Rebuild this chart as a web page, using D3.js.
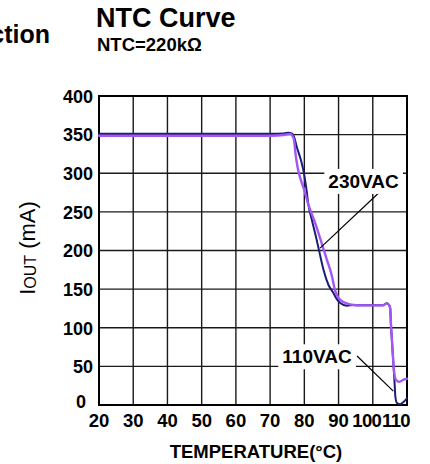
<!DOCTYPE html>
<html>
<head>
<meta charset="utf-8">
<script src="https://cdn.jsdelivr.net/npm/d3@7"></script>
<style>
  body { margin: 0; background: #fff; }
  svg { font-family: "Liberation Sans", Arial, sans-serif; }
  .grid line { stroke: #1a1a1a; stroke-width: 1.4; }
  .frame { fill: none; stroke: #000; stroke-width: 2; }
  .tick-label { font-weight: bold; fill: #000; }
  .curve { fill: none; stroke-linejoin: round; stroke-linecap: round; }
</style>
</head>
<body>
<svg id="chart" width="430" height="464"></svg>
<script>
const xTicks = [20, 30, 40, 50, 60, 70, 80, 90, 100, 110];
const yTicks = [0, 50, 100, 150, 200, 250, 300, 350, 400];

// 110VAC (dark blue)
const temp110 = [20, 70, 74, 75.4, 76.5, 77, 77.8, 79, 79.7, 80.5, 81.2, 82.2, 83.6, 84.6, 85.6, 87, 88.5, 89.5, 90.5, 92.4, 94.4, 96, 103, 104.1, 104.8, 105.1, 105.3, 105.6, 105.9, 106.2, 106.4, 106.6, 107, 108, 109, 110];
const iout110 = [351, 351, 351.5, 352.5, 351, 347, 334, 317, 304, 283, 259, 239.5, 214, 194, 175, 156, 145, 137, 132, 128.5, 129.5, 129, 129, 131.6, 129, 125, 105, 84, 62, 41, 26, 11, 3, 1, 4, 8.5];

// 230VAC (purple)
const temp230 = [20, 70, 74, 75.8, 76.5, 77, 77.4, 78, 79, 80, 81, 83.2, 85.1, 86.6, 88, 89, 89.8, 90.5, 92.4, 94.4, 96, 103, 104.1, 104.8, 105.1, 105.3, 105.6, 105.9, 106.3, 106.8, 107.8, 109, 110];
const iout230 = [348.5, 348.5, 349.5, 351, 348.5, 343, 326, 308.5, 291, 278, 262, 235, 209, 188, 168, 148, 140, 136, 131.6, 129.5, 129, 129, 131.6, 129, 125, 106, 84, 62.5, 41, 32.4, 30, 33, 34];

const xScale = d3.scaleLinear().domain([20, 110]).range([99, 407]);
const yScale = d3.scaleLinear().domain([0, 400]).range([405, 96]);

const svg = d3.select("#chart");

// header texts
svg
  .append("text")
  .attr("x", 50)
  .attr("y", 43)
  .attr("text-anchor", "end")
  .attr("font-size", 25)
  .attr("font-weight", "bold")
  .text("ction");

svg
  .append("text")
  .attr("x", 96)
  .attr("y", 27)
  .attr("font-size", 27)
  .attr("font-weight", "bold")
  .text("NTC Curve");

svg
  .append("text")
  .attr("x", 97)
  .attr("y", 51)
  .attr("font-size", 18.5)
  .attr("font-weight", "bold")
  .text("NTC=220kΩ");

// grid
const grid = svg.append("g").attr("class", "grid");

grid
  .selectAll("line.v")
  .data(xTicks)
  .join("line")
  .attr("class", "v")
  .attr("x1", d => xScale(d))
  .attr("x2", d => xScale(d))
  .attr("y1", yScale(0))
  .attr("y2", yScale(400));

grid
  .selectAll("line.h")
  .data(yTicks)
  .join("line")
  .attr("class", "h")
  .attr("x1", xScale(20))
  .attr("x2", xScale(110))
  .attr("y1", d => yScale(d))
  .attr("y2", d => yScale(d));

svg
  .append("rect")
  .attr("class", "frame")
  .attr("x", xScale(20))
  .attr("y", yScale(400))
  .attr("width", xScale(110) - xScale(20))
  .attr("height", yScale(0) - yScale(400));

// tick labels
svg
  .append("g")
  .selectAll("text")
  .data(yTicks)
  .join("text")
  .attr("class", "tick-label")
  .attr("font-size", 18)
  .attr("x", d => xScale(20) - (d === 0 ? 13 : 6))
  .attr("y", d => yScale(d))
  .attr("dy", d => (d === 0 ? "0.15em" : "0.38em"))
  .attr("text-anchor", "end")
  .text(d => d);

const xShift = { 100: -6, 110: -11 };
svg
  .append("g")
  .selectAll("text")
  .data(xTicks)
  .join("text")
  .attr("class", "tick-label")
  .attr("font-size", 18.5)
  .attr("letter-spacing", d => (d >= 100 ? -0.6 : 0))
  .attr("x", d => xScale(d) + (xShift[d] || 0))
  .attr("y", yScale(0) + 22)
  .attr("text-anchor", "middle")
  .text(d => d);

// axis titles
svg
  .append("text")
  .attr("x", 256)
  .attr("y", 458)
  .attr("text-anchor", "middle")
  .attr("font-size", 18.5)
  .attr("font-weight", "bold")
  .text("TEMPERATURE(°C)");

const yTitle = svg
  .append("text")
  .attr("transform", "translate(35,248) rotate(-90)")
  .attr("text-anchor", "middle")
  .attr("font-size", 22);
yTitle.append("tspan").text("I");
yTitle.append("tspan").attr("font-size", 16).attr("dy", 1).text("OUT");
yTitle.append("tspan").attr("dy", -1).text(" (mA)");

// curves
const line = d3
  .line()
  .x(d => xScale(d[0]))
  .y(d => yScale(d[1]))
  .curve(d3.curveMonotoneX);

svg
  .append("path")
  .datum(d3.zip(temp110, iout110))
  .attr("class", "curve")
  .attr("stroke", "#1c1c78")
  .attr("stroke-width", 2)
  .attr("d", line);

svg
  .append("path")
  .datum(d3.zip(temp230, iout230))
  .attr("class", "curve")
  .attr("stroke", "#a455f5")
  .attr("stroke-width", 2.4)
  .attr("d", line);

// annotations
function annotate(label, tx, ty, from, to) {
  svg
    .append("line")
    .attr("x1", xScale(from[0]))
    .attr("y1", yScale(from[1]))
    .attr("x2", xScale(to[0]))
    .attr("y2", yScale(to[1]))
    .attr("stroke", "#000")
    .attr("stroke-width", 1.2);

  const g = svg.append("g");
  const t = g
    .append("text")
    .attr("x", xScale(tx))
    .attr("y", yScale(ty))
    .attr("text-anchor", "middle")
    .attr("font-size", 19)
    .attr("font-weight", "bold")
    .text(label);
  const b = t.node().getBBox();
  g
    .insert("rect", "text")
    .attr("x", b.x - 4)
    .attr("y", b.y - 2)
    .attr("width", b.width + 8)
    .attr("height", b.height + 4)
    .attr("fill", "#fff");
}

annotate("230VAC", 97.3, 281, [102.8, 279], [84.6, 203]);
annotate("110VAC", 83.7, 54, [95.4, 63.4], [106, 18]);
</script>
</body>
</html>
